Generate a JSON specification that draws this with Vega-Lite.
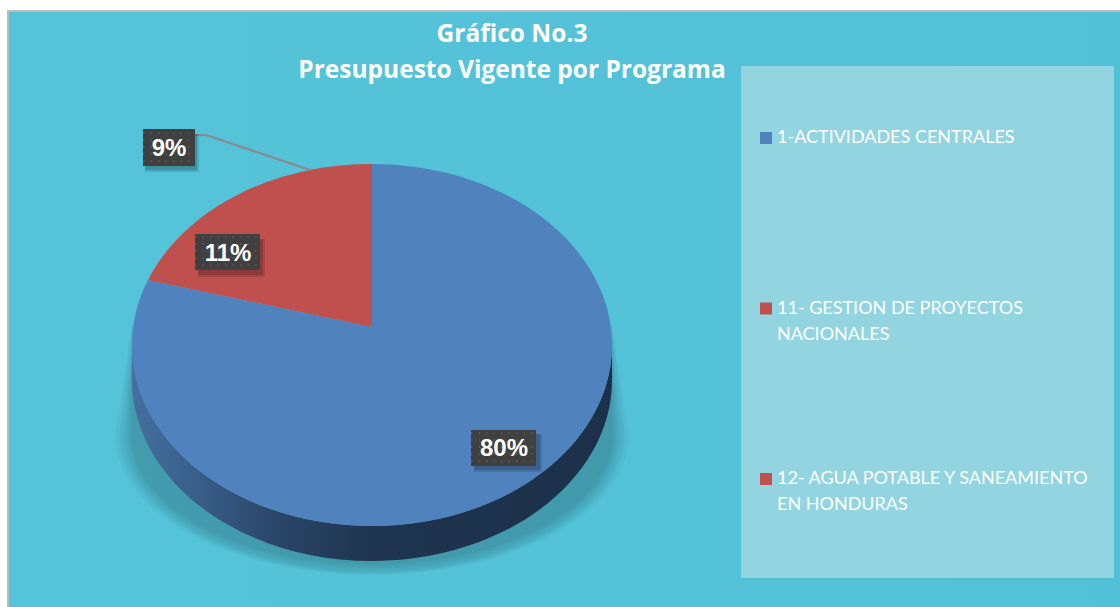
{"$schema":"https://vega.github.io/schema/vega-lite/v6.json","width":1120,"height":607,"padding":0,"autosize":{"type":"none"},"background":"#ffffff","view":{"stroke":null,"fill":null},
"title":{"text":["Gráfico No.3","Presupuesto Vigente por Programa"],"frame":"group","anchor":"middle","dx":-48,"dy":83,"offset":0,"orient":"top","baseline":"top","color":"#ffffff","font":"Open Sans","fontWeight":"bold","fontSize":24.5,"lineHeight":36,"zindex":1},
"datasets":{"programas":[{"programa":"1-ACTIVIDADES CENTRALES","porcentaje":0.80},{"programa":"11- GESTION DE PROYECTOS\nNACIONALES","porcentaje":0.11},{"programa":"12- AGUA POTABLE Y SANEAMIENTO\nEN HONDURAS","porcentaje":0.09}]},
"data":{"name":"programas"},
"resolve":{"scale":{"x":"independent","y":"independent","color":"independent","shape":"independent"}},
"layer":[
{"data":{"values":[{}]},"mark":{"type":"rect","fill":{"gradient":"linear","x1":0,"y1":0,"x2":1,"y2":0,"stops":[{"offset":0,"color":"#55c4d9"},{"offset":1,"color":"#52c1d8"}]},"stroke":"#bdbdbd","strokeWidth":2},"encoding":{"x":{"datum":8,"type":"quantitative","scale":{"domain":[0,1120],"range":[0,1120]},"axis":null},"x2":{"datum":1124},"y":{"datum":11,"type":"quantitative","scale":{"domain":[0,607],"range":[0,607]},"axis":null},"y2":{"datum":611}}},
{"data":{"values":[{}]},"mark":{"type":"rect","fill":"#92d5e1"},"encoding":{"x":{"datum":741,"type":"quantitative","scale":{"domain":[0,1120],"range":[0,1120]},"axis":null},"x2":{"datum":1114},"y":{"datum":66,"type":"quantitative","scale":{"domain":[0,607],"range":[0,607]},"axis":null},"y2":{"datum":578}}},
{"data":{"values":[{}]},"encoding":{"x":{"datum":372,"type":"quantitative","scale":{"domain":[0,1120],"range":[0,1120]},"axis":null},"y":{"datum":345,"type":"quantitative","scale":{"domain":[0,607],"range":[0,607]},"axis":null}},
 "layer":[
 {"mark":{"type":"point","filled":true,"size":4,"fill":"#000000","opacity":0.03,"strokeWidth":0,"shape":"M-240,-20L-257,90A257,140 0 0 0 257,90L240,-20Z"}},
 {"mark":{"type":"point","filled":true,"size":4,"fill":"#000000","opacity":0.03,"strokeWidth":0,"shape":"M-240,-20L-253,90A253,139 0 0 0 253,90L240,-20Z"}},
 {"mark":{"type":"point","filled":true,"size":4,"fill":"#000000","opacity":0.03,"strokeWidth":0,"shape":"M-240,-10L-250,90A250,138 0 0 0 250,90L240,-10Z"}},
 {"mark":{"type":"point","filled":true,"size":4,"fill":"#000000","opacity":0.04,"strokeWidth":0,"shape":"M-240,0L-247,90A247,136 0 0 0 247,90L240,0Z"}},
 {"mark":{"type":"point","filled":true,"size":4,"fill":"#000000","opacity":0.04,"strokeWidth":0,"shape":"M-240,0L-244,90A244,133 0 0 0 244,90L240,0Z"}},
 {"mark":{"type":"point","filled":true,"size":4,"fill":"#000000","opacity":0.04,"strokeWidth":0,"shape":"M-240,0L-241,90A241,130 0 0 0 241,90L240,0Z"}},
 {"mark":{"type":"point","filled":true,"size":4,"opacity":1,"strokeWidth":0,"fill":{"gradient":"linear","x1":0,"y1":0,"x2":1,"y2":0,"stops":[{"offset":0,"color":"#44709f"},{"offset":0.12,"color":"#3a608c"},{"offset":0.3,"color":"#2a4668"},{"offset":0.5,"color":"#1f3450"},{"offset":1,"color":"#1c3049"}]},"shape":"M-240,0A240,181 0 0 0 240,0L240,35A240,181 0 0 1 -240,35Z"}}
 ]},
{"mark":{"type":"point","filled":true,"size":4,"opacity":1,"strokeWidth":0},"encoding":{"x":{"datum":372,"type":"quantitative","scale":{"domain":[0,1120],"range":[0,1120]},"axis":null},"y":{"datum":345,"type":"quantitative","scale":{"domain":[0,607],"range":[0,607]},"axis":null},
 "color":{"field":"programa","type":"nominal","legend":null,"scale":{"domain":["1-ACTIVIDADES CENTRALES","11- GESTION DE PROYECTOS\nNACIONALES","12- AGUA POTABLE Y SANEAMIENTO\nEN HONDURAS"],"range":["#5082be","#c0504d","#c0504d"]}},
 "shape":{"field":"programa","type":"nominal","legend":null,"scale":{"domain":["1-ACTIVIDADES CENTRALES","11- GESTION DE PROYECTOS\nNACIONALES","12- AGUA POTABLE Y SANEAMIENTO\nEN HONDURAS"],"range":["M0,-18L0,-181A240,181 0 1 1 -224,-65Z","M0,-18L-224,-65A240,181 0 0 1 -120,-157Z","M0,-18L-129,-153A240,181 0 0 1 0,-181Z"]}}}},
{"data":{"values":[{}]},"mark":{"type":"rule","stroke":"#8a8a8a","strokeWidth":2},"encoding":{"x":{"datum":195,"type":"quantitative","scale":{"domain":[0,1120],"range":[0,1120]},"axis":null},"x2":{"datum":206},"y":{"datum":135,"type":"quantitative","scale":{"domain":[0,607],"range":[0,607]},"axis":null},"y2":{"datum":135}}},
{"data":{"values":[{}]},"mark":{"type":"rule","stroke":"#8a8a8a","strokeWidth":2},"encoding":{"x":{"datum":206,"type":"quantitative","scale":{"domain":[0,1120],"range":[0,1120]},"axis":null},"x2":{"datum":310},"y":{"datum":135,"type":"quantitative","scale":{"domain":[0,607],"range":[0,607]},"axis":null},"y2":{"datum":170}}},
{"transform":[{"filter":"datum.porcentaje == 0.09"}],"encoding":{"x":{"datum":169,"type":"quantitative","scale":{"domain":[0,1120],"range":[0,1120]},"axis":null},"y":{"datum":148,"type":"quantitative","scale":{"domain":[0,607],"range":[0,607]},"axis":null}},
 "layer":[
 {"mark":{"type":"point","filled":true,"size":4,"fill":"#000000","opacity":0.12,"strokeWidth":0,"shape":"M-24,-14H30V24H-24Z"}},
 {"mark":{"type":"point","filled":true,"size":4,"fill":"#000000","opacity":0.16,"strokeWidth":0,"shape":"M-24,-14H28V22H-24Z"}},
 {"mark":{"type":"point","filled":true,"size":4,"fill":"#404040","opacity":1,"strokeWidth":0,"shape":"M-26,-19H26V18H-26Z"}},
 {"mark":{"type":"point","filled":false,"size":4,"opacity":1,"stroke":"#5c5c5c","strokeWidth":1.5,"strokeDash":[1.5,6],"shape":"M-26,-15H26M-26,-8H26M-26,-1H26M-26,6H26M-26,13H26"}},
 {"mark":{"type":"text","font":"Liberation Sans","fontWeight":"bold","fontSize":24,"color":"#ffffff","align":"center","baseline":"middle","dy":1},"encoding":{"text":{"field":"porcentaje","type":"quantitative","format":".0%"}}}
 ]},
{"transform":[{"filter":"datum.porcentaje == 0.11"}],"encoding":{"x":{"datum":228,"type":"quantitative","scale":{"domain":[0,1120],"range":[0,1120]},"axis":null},"y":{"datum":253,"type":"quantitative","scale":{"domain":[0,607],"range":[0,607]},"axis":null}},
 "layer":[
 {"mark":{"type":"point","filled":true,"size":4,"fill":"#000000","opacity":0.12,"strokeWidth":0,"shape":"M-30,-14H37V24H-30Z"}},
 {"mark":{"type":"point","filled":true,"size":4,"fill":"#000000","opacity":0.16,"strokeWidth":0,"shape":"M-30,-14H35V22H-30Z"}},
 {"mark":{"type":"point","filled":true,"size":4,"fill":"#404040","opacity":1,"strokeWidth":0,"shape":"M-33,-19H32V17H-33Z"}},
 {"mark":{"type":"point","filled":false,"size":4,"opacity":1,"stroke":"#5c5c5c","strokeWidth":1.5,"strokeDash":[1.5,6],"shape":"M-33,-16H32M-33,-9H32M-33,-2H32M-33,5H32M-33,12H32"}},
 {"mark":{"type":"text","font":"Liberation Sans","fontWeight":"bold","fontSize":24,"color":"#ffffff","align":"center","baseline":"middle","dy":1},"encoding":{"text":{"field":"porcentaje","type":"quantitative","format":".0%"}}}
 ]},
{"transform":[{"filter":"datum.porcentaje == 0.8"}],"encoding":{"x":{"datum":504,"type":"quantitative","scale":{"domain":[0,1120],"range":[0,1120]},"axis":null},"y":{"datum":448,"type":"quantitative","scale":{"domain":[0,607],"range":[0,607]},"axis":null}},
 "layer":[
 {"mark":{"type":"point","filled":true,"size":4,"fill":"#000000","opacity":0.12,"strokeWidth":0,"shape":"M-30,-14H38V24H-30Z"}},
 {"mark":{"type":"point","filled":true,"size":4,"fill":"#000000","opacity":0.16,"strokeWidth":0,"shape":"M-30,-14H36V22H-30Z"}},
 {"mark":{"type":"point","filled":true,"size":4,"fill":"#404040","opacity":1,"strokeWidth":0,"shape":"M-33,-18H32V18H-33Z"}},
 {"mark":{"type":"point","filled":false,"size":4,"opacity":1,"stroke":"#5c5c5c","strokeWidth":1.5,"strokeDash":[1.5,6],"shape":"M-33,-15H32M-33,-8H32M-33,-1H32M-33,6H32M-33,13H32"}},
 {"mark":{"type":"text","font":"Liberation Sans","fontWeight":"bold","fontSize":24,"color":"#ffffff","align":"center","baseline":"middle","dy":1},"encoding":{"text":{"field":"porcentaje","type":"quantitative","format":".0%"}}}
 ]},
{"mark":{"type":"point","shape":"square","filled":true,"size":144,"opacity":1,"strokeWidth":0},"encoding":{"x":{"datum":766,"type":"quantitative","scale":{"domain":[0,1120],"range":[0,1120]},"axis":null},"y":{"field":"programa","type":"nominal","sort":null,"axis":null,"scale":{"type":"point","padding":0,"domain":["1-ACTIVIDADES CENTRALES","11- GESTION DE PROYECTOS\nNACIONALES","12- AGUA POTABLE Y SANEAMIENTO\nEN HONDURAS"],"range":[138,479]}},"color":{"field":"programa","type":"nominal","legend":null,"scale":{"domain":["1-ACTIVIDADES CENTRALES","11- GESTION DE PROYECTOS\nNACIONALES","12- AGUA POTABLE Y SANEAMIENTO\nEN HONDURAS"],"range":["#5082be","#c0504d","#c0504d"]}}}},
{"mark":{"type":"text","font":"Lato","fontSize":18,"color":"#ffffff","align":"left","baseline":"top","lineBreak":"\n","lineHeight":26},"encoding":{"x":{"datum":777,"type":"quantitative","scale":{"domain":[0,1120],"range":[0,1120]},"axis":null},"y":{"field":"programa","type":"nominal","sort":null,"axis":null,"scale":{"type":"point","padding":0,"domain":["1-ACTIVIDADES CENTRALES","11- GESTION DE PROYECTOS\nNACIONALES","12- AGUA POTABLE Y SANEAMIENTO\nEN HONDURAS"],"range":[129,470]}},"text":{"field":"programa","type":"nominal"}}}
]}
